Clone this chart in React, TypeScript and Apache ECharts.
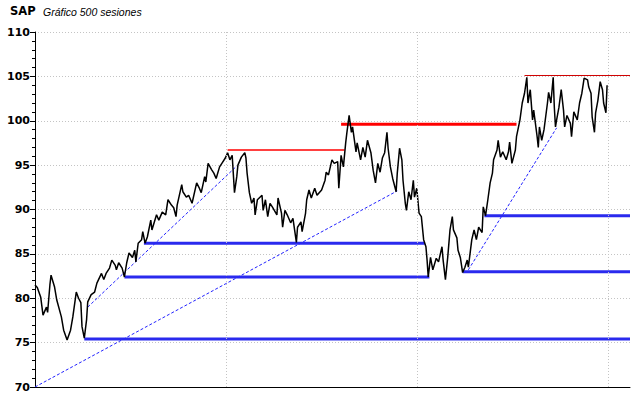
import React, { useEffect, useRef } from "react";
import * as echarts from "echarts";

// Session index (0..499) and price
const sessions = [
  0, 2, 5, 7, 10, 11, 13, 14, 17, 19, 23, 25, 28, 31, 33, 36, 38, 40, 41, 43, 45, 46, 49, 52, 54, 58, 60, 62, 65, 67,
  70, 71, 73, 76, 78, 80, 82, 85, 87, 88, 90, 93, 94, 96, 98, 101, 102, 106, 108, 111, 114, 116, 119, 121, 123, 124, 128, 129, 132, 134,
  137, 141, 143, 145, 148, 149, 151, 154, 156, 158, 161, 163, 166, 168, 170, 172, 174, 176, 177, 180, 183, 184, 185, 187, 189, 191, 192, 194, 198, 199,
  201, 203, 205, 207, 211, 212, 215, 216, 218, 220, 223, 225, 228, 229, 232, 233, 236, 237, 239, 241, 244, 246, 250, 253, 254, 256, 259, 261, 264, 265,
  267, 269, 271, 272, 274, 276, 277, 280, 281, 284, 286, 288, 290, 293, 295, 297, 299, 301, 303, 305, 307, 308, 310, 312, 315, 316, 318, 320, 321, 323,
  324, 326, 328, 330, 331, 333, 335, 337, 339, 341, 342, 343, 345, 347, 350, 352, 355, 356, 358, 360, 362, 364, 365, 368, 369, 371, 373, 375, 377, 378,
  381, 383, 385, 387, 390, 391, 393, 395, 397, 399, 400, 403, 404, 406, 408, 411, 413, 414, 416, 419, 420, 423, 425, 427, 429, 430, 432, 434, 435, 438,
  439, 440, 442, 444, 447, 448, 450, 452, 453, 454, 455, 457, 459, 461, 462, 464, 467, 468, 470, 473, 475, 477, 479, 482, 483, 485, 486, 488, 489, 491,
  493, 495, 496, 498, 499,
];
const prices = [
  81.5, 81.2, 80.1, 78.1, 79.0, 78.4, 81.5, 82.6, 81.3, 79.8, 77.9, 76.4, 75.3, 76.4, 77.9, 80.7, 80.0, 79.5, 76.8, 75.5, 77.6, 79.6, 80.4, 80.7, 81.7, 82.8, 82.1, 82.8, 83.4, 84.3,
  83.7, 83.2, 84.0, 83.4, 82.4, 84.0, 85.1, 84.6, 85.4, 84.1, 86.2, 86.6, 87.5, 86.2, 86.9, 88.8, 87.7, 89.4, 88.8, 89.7, 89.4, 91.1, 90.5, 90.2, 89.2, 90.5, 92.8, 92.0, 91.4, 91.6,
  90.7, 93.0, 92.5, 91.9, 93.7, 93.1, 95.2, 94.5, 94.1, 93.5, 94.8, 95.2, 95.8, 96.4, 95.6, 96.1, 91.9, 93.7, 95.0, 95.9, 96.4, 95.8, 94.1, 91.9, 90.7, 91.3, 89.4, 91.1, 91.6, 89.9,
  91.1, 89.2, 90.7, 90.3, 89.4, 91.3, 89.6, 88.0, 89.9, 89.4, 88.5, 89.0, 86.3, 88.0, 88.6, 87.5, 89.6, 91.1, 92.2, 91.3, 92.4, 91.6, 92.2, 93.3, 94.2, 93.9, 95.6, 95.2, 95.4, 92.4,
  96.1, 94.8, 97.5, 98.6, 100.6, 98.7, 99.3, 96.5, 97.5, 95.6, 97.0, 95.9, 97.8, 96.4, 94.4, 93.0, 95.2, 94.2, 95.8, 96.4, 98.7, 96.9, 94.8, 93.5, 92.0, 94.1, 96.9, 95.6, 93.3, 90.7,
  89.9, 92.0, 91.1, 93.3, 91.4, 92.4, 89.6, 89.2, 86.6, 85.8, 84.3, 82.4, 84.6, 83.2, 84.5, 84.1, 85.8, 84.3, 82.1, 84.6, 87.7, 89.2, 87.7, 86.8, 85.4, 84.6, 82.9, 83.5, 84.3, 83.5,
  86.6, 87.7, 86.6, 88.0, 87.4, 90.3, 89.3, 91.1, 93.0, 94.1, 95.6, 96.7, 97.8, 95.9, 96.5, 95.6, 96.5, 97.6, 95.2, 96.7, 98.2, 100.1, 102.0, 103.1, 104.9, 102.0, 103.5, 100.1, 101.2, 98.2,
  97.0, 99.3, 97.8, 99.0, 102.0, 103.2, 102.0, 104.9, 101.5, 99.3, 100.1, 101.5, 103.5, 101.2, 99.3, 100.6, 99.7, 98.2, 101.0, 100.1, 102.0, 103.1, 104.8, 104.6, 103.8, 103.1, 100.4, 98.7, 100.9, 102.3,
  104.4, 103.5, 102.0, 100.9, 104.0,
];

// [from session, to session, price]
const resistanceLines = [
  [168, 270, 96.7],
  [267, 420, 99.6],
  [427, 519, 105.1],
];
const supportLines = [
  [95, 340, 86.2],
  [78, 344, 82.4],
  [43, 519, 75.4],
  [392, 519, 89.3],
  [373, 519, 83.0],
];
// [session a, price a, session b, price b]
const trendLines = [
  [0, 70, 316, 92.1],
  [46, 79.0, 176, 94.9],
  [378, 83.2, 455, 99.2],
];
const verticalGrid = [500 / 3, 1000 / 3, 500];

const redWidths = [1.5, 3, 1];
const redColors = ["#ff0000", "#ff0000", "#d00000"];

export default function App() {
  const ref = useRef<HTMLDivElement>(null);
  useEffect(() => {
    if (!ref.current) return;
    const chart = echarts.init(ref.current, undefined, { renderer: "svg" });
    const priceData = sessions.map((s, i) => [s, prices[i]]);
    const series: any[] = [
      {
        type: "line",
        data: [],
        silent: true,
        z: 1,
        markLine: {
          silent: true,
          symbol: "none",
          label: { show: false },
          lineStyle: { color: "#c4c4c4", type: [1, 2], width: 1 },
          data: verticalGrid.map((v) => ({ xAxis: v })),
        },
      },
    ];
    resistanceLines.forEach((r, i) => {
      series.push({
        type: "line",
        data: [
          [r[0], r[2]],
          [r[1], r[2]],
        ],
        symbol: "none",
        silent: true,
        z: 3,
        lineStyle: { color: redColors[i], width: redWidths[i] },
      });
    });
    supportLines.forEach((r) => {
      series.push({
        type: "line",
        data: [
          [r[0], r[2]],
          [r[1], r[2]],
        ],
        symbol: "none",
        silent: true,
        z: 3,
        lineStyle: { color: "#2a2aee", width: 3 },
      });
    });
    trendLines.forEach((t) => {
      series.push({
        type: "line",
        data: [
          [t[0], t[1]],
          [t[2], t[3]],
        ],
        symbol: "none",
        silent: true,
        z: 3,
        lineStyle: { color: "#2222ff", width: 1, type: [3, 2] },
      });
    });
    series.push({
      type: "line",
      data: priceData,
      symbol: "none",
      silent: true,
      z: 4,
      lineStyle: { color: "#000000", width: 1.5 },
    });

    chart.setOption({
      animation: false,
      backgroundColor: "#ffffff",
      grid: { left: 35, right: 10, top: 32, bottom: 11 },
      graphic: [
        {
          type: "text",
          left: 10,
          top: 5,
          style: { text: "SAP", font: "bold 11.5px 'DejaVu Sans'", fill: "#000" },
        },
        {
          type: "text",
          left: 43,
          top: 6,
          style: { text: "Gráfico 500 sesiones", font: "italic 10.5px 'Liberation Sans'", fill: "#000" },
        },
      ],
      xAxis: {
        type: "value",
        min: 0,
        max: 519,
        axisLine: { show: true, onZero: false, lineStyle: { color: "#000", width: 1 } },
        axisTick: { show: false },
        axisLabel: { show: false },
        splitLine: { show: false },
      },
      yAxis: {
        type: "value",
        min: 70,
        max: 110,
        interval: 5,
        axisLine: { show: true, lineStyle: { color: "#000", width: 1 } },
        axisTick: { show: true, length: 5, lineStyle: { color: "#000" } },
        minorTick: { show: true, splitNumber: 5, length: 3, lineStyle: { color: "#000" } },
        axisLabel: {
          color: "#000",
          fontFamily: "DejaVu Sans",
          fontWeight: "bold",
          fontSize: 11,
          margin: 5,
        },
        splitLine: { show: true, lineStyle: { color: "#c4c4c4", type: [1, 2], width: 1 } },
      },
      series,
    });
    return () => chart.dispose();
  }, []);
  return (
    <div
      ref={ref}
      style={{ position: "fixed", left: 0, top: 0, width: 640, height: 398, background: "#fff" }}
    />
  );
}
